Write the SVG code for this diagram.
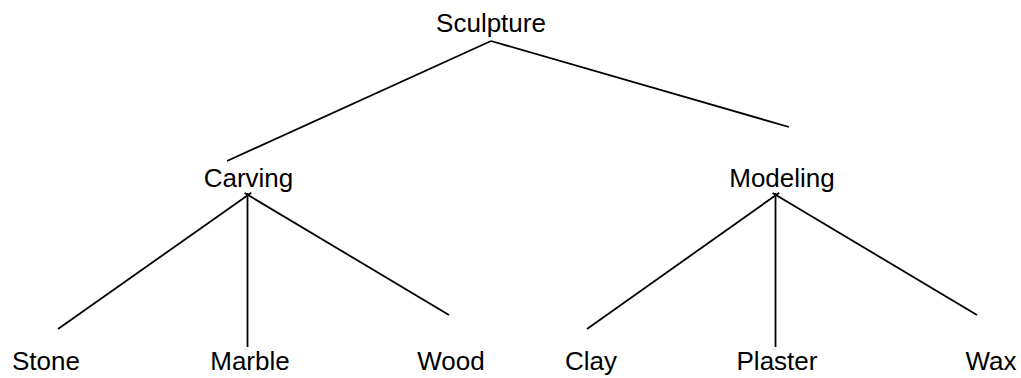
<svg xmlns="http://www.w3.org/2000/svg" width="1021" height="378" viewBox="0 0 1021 378">
<style>
.lbl{font-family:"Liberation Sans",Arial,sans-serif;font-size:26px;fill:#000;text-anchor:middle}
.edge{stroke:#000;stroke-width:1.8;fill:none;stroke-linecap:butt}
</style>
<rect width="1021" height="378" fill="#fff"/>
<g id="connectors">
<line class="edge" x1="491" y1="41" x2="227" y2="161"/>
<line class="edge" x1="491" y1="41" x2="789" y2="127"/>
<line class="edge" x1="58" y1="329" x2="251.3" y2="192.7"/>
<line class="edge" x1="247.5" y1="347" x2="247.5" y2="193"/>
<line class="edge" x1="449" y1="315" x2="244.6" y2="193"/>
<line class="edge" x1="587" y1="329" x2="779.3" y2="192.7"/>
<line class="edge" x1="775.5" y1="347" x2="775.5" y2="193"/>
<line class="edge" x1="977" y1="315" x2="772.6" y2="193"/>
</g>
<g id="sculpture"><text class="lbl" x="491" y="32">Sculpture</text></g>
<g id="carving"><text class="lbl" x="248.5" y="187">Carving</text></g>
<g id="modeling"><text class="lbl" x="782" y="187">Modeling</text></g>
<g id="stone"><text class="lbl" x="46" y="370">Stone</text></g>
<g id="marble"><text class="lbl" x="250" y="370">Marble</text></g>
<g id="wood"><text class="lbl" x="451" y="370">Wood</text></g>
<g id="clay"><text class="lbl" x="591" y="370">Clay</text></g>
<g id="plaster"><text class="lbl" x="777" y="370">Plaster</text></g>
<g id="wax"><text class="lbl" x="991" y="370">Wax</text></g>
</svg>
